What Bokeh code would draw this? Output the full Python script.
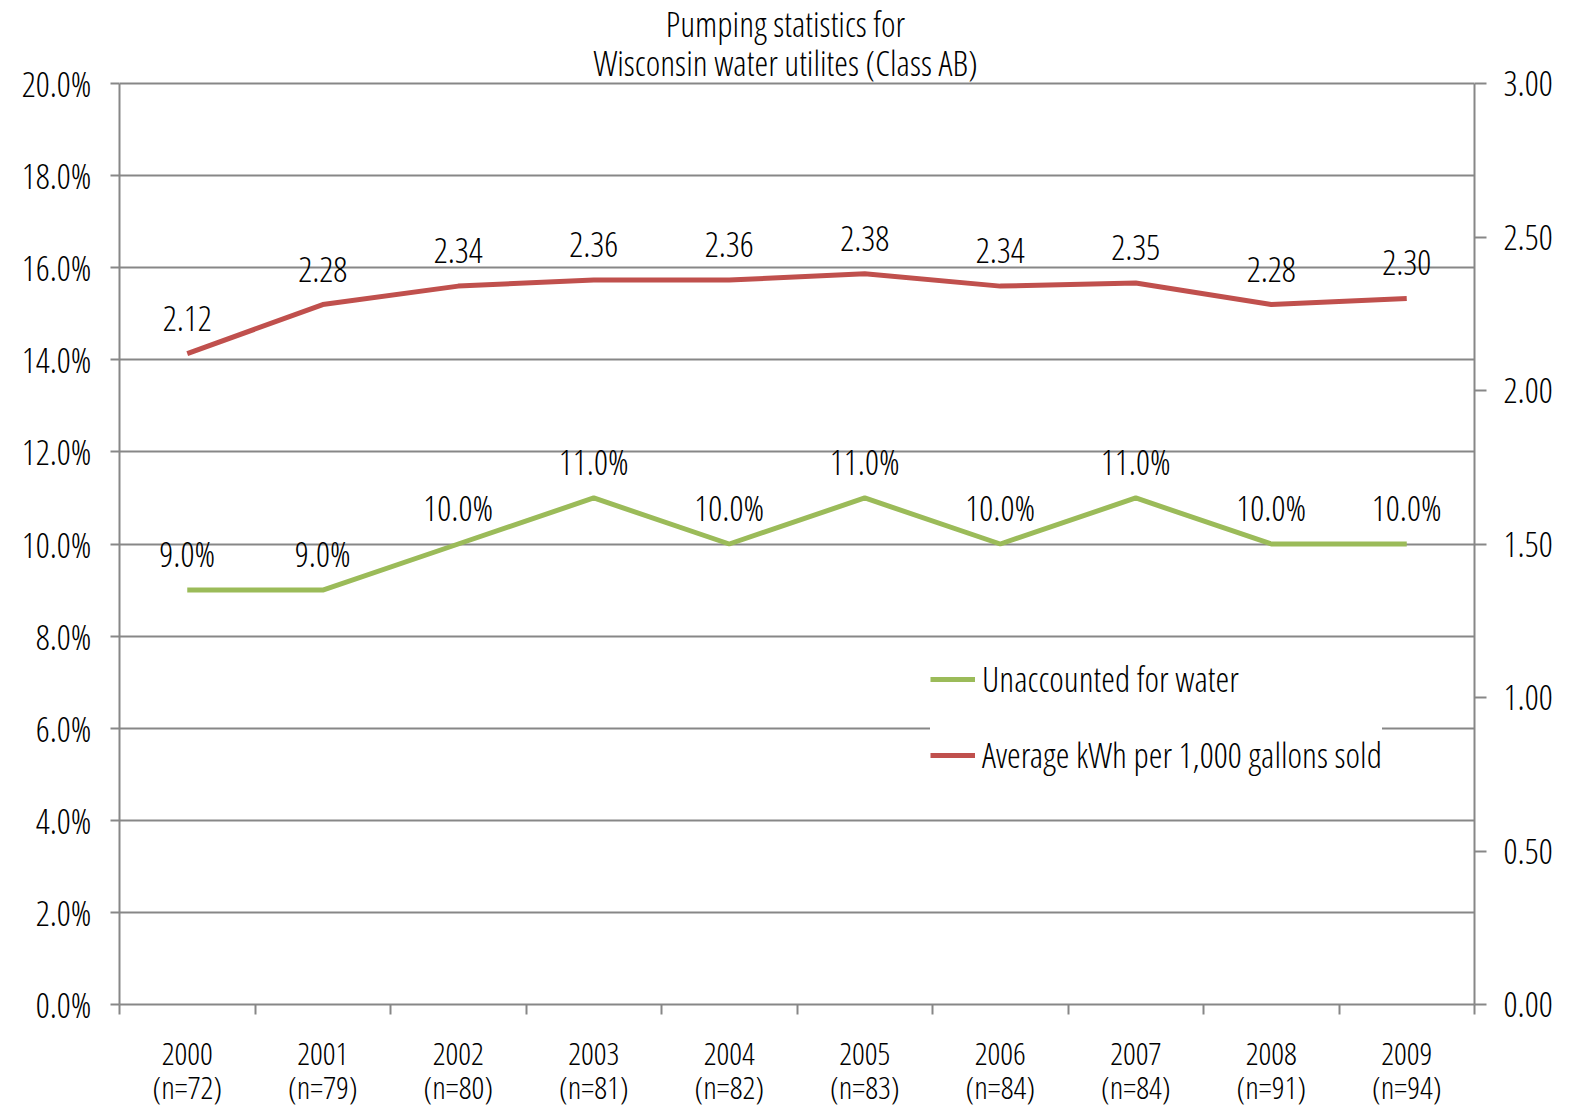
from bokeh.plotting import figure
from bokeh.models import (ColumnDataSource, LinearAxis, Range1d, FixedTicker, PrintfTickFormatter,
                          LabelSet, Label, Legend, LegendItem)
from bokeh.core.properties import value
from bokeh.embed import file_html
from bokeh.resources import INLINE

years = ["2000", "2001", "2002", "2003", "2004", "2005", "2006", "2007", "2008", "2009"]
counts = [72, 79, 80, 81, 82, 83, 84, 84, 91, 94]
unaccounted = [9.0, 9.0, 10.0, 11.0, 10.0, 11.0, 10.0, 11.0, 10.0, 10.0]  # percent
kwh = [2.12, 2.28, 2.34, 2.36, 2.36, 2.38, 2.34, 2.35, 2.28, 2.30]
title_lines = ["Pumping statistics for", "Wisconsin water utilites (Class AB)"]
left_ticks = [0, 2, 4, 6, 8, 10, 12, 14, 16, 18, 20]
right_ticks = [0, 0.5, 1.0, 1.5, 2.0, 2.5, 3.0]

FONT = "Open Sans Condensed Light"
FS = "35px"
FS_X = "32px"
GRAY = "#878787"
GREEN = "#9BBB59"
RED = "#C0504D"
TXT = "#000000"

# layout geometry (pixels): the frame reaches the top of the canvas so that the
# title can sit inside it; the axes are bounded to their value ranges.
W, H = 1570, 1110
F_LEFT, F_RIGHT, F_BOTTOM = 119, 1474, 1004
AX_TOP = 83
scale_up = F_BOTTOM / (F_BOTTOM - AX_TOP)

xs = [i + 0.5 for i in range(len(years))]
src = ColumnDataSource(dict(
    x=xs, u=unaccounted, k=kwh,
    ulab=[f"{v:.1f}%" for v in unaccounted],
    klab=[f"{v:.2f}" for v in kwh],
))

p = figure(width=W, height=H, output_backend="svg", toolbar_location=None,
           x_range=Range1d(0, len(years)),
           y_range=Range1d(0, left_ticks[-1] * scale_up),
           min_border_left=F_LEFT, min_border_right=W - F_RIGHT, min_border_top=0,
           min_border_bottom=H - F_BOTTOM,
           x_axis_location=None, y_axis_location=None)
p.outline_line_color = None
p.background_fill_color = "white"
p.border_fill_color = "white"
p.extra_y_ranges = {"kwh": Range1d(0, right_ticks[-1] * scale_up)}

# left axis
yl = LinearAxis(ticker=FixedTicker(ticks=left_ticks, minor_ticks=[]),
                formatter=PrintfTickFormatter(format="%.1f%%"),
                bounds=(left_ticks[0], left_ticks[-1]))
yl.axis_line_color = GRAY
yl.axis_line_width = 2
yl.major_tick_line_color = GRAY
yl.major_tick_line_width = 2
yl.major_tick_out = 9
yl.major_tick_in = 0
yl.major_label_standoff = 19
yl.major_label_text_font = FONT
yl.major_label_text_font_size = FS
yl.major_label_text_color = TXT
p.add_layout(yl, "left")

# right axis
yr = LinearAxis(y_range_name="kwh",
                ticker=FixedTicker(ticks=right_ticks, minor_ticks=[]),
                formatter=PrintfTickFormatter(format="%.2f"),
                bounds=(right_ticks[0], right_ticks[-1]))
yr.axis_line_color = GRAY
yr.axis_line_width = 2
yr.major_tick_line_color = GRAY
yr.major_tick_line_width = 2
yr.major_tick_out = 12
yr.major_tick_in = 0
yr.major_label_standoff = 17
yr.major_label_text_font = FONT
yr.major_label_text_font_size = FS
yr.major_label_text_color = TXT
p.add_layout(yr, "right")

# bottom axis: labels at category centres, tick marks at category boundaries
xb = LinearAxis(ticker=FixedTicker(ticks=xs, minor_ticks=list(range(0, len(years) + 1))))
xb.major_label_overrides = {x: f"{y}\n(n={n})" for x, y, n in zip(xs, years, counts)}
xb.axis_line_color = GRAY
xb.axis_line_width = 2
xb.major_tick_line_color = None
xb.major_tick_out = 0
xb.major_tick_in = 0
xb.minor_tick_line_color = GRAY
xb.minor_tick_line_width = 2
xb.minor_tick_out = 10
xb.minor_tick_in = 0
xb.major_label_standoff = 16
xb.major_label_text_font = FONT
xb.major_label_text_font_size = FS_X
xb.major_label_text_line_height = 0.8
xb.major_label_text_color = TXT
p.add_layout(xb, "below")

p.ygrid.grid_line_color = GRAY
p.ygrid.grid_line_width = 2
p.ygrid.ticker = FixedTicker(ticks=left_ticks)
p.xgrid.grid_line_color = None

r_u = p.line("x", "u", source=src, line_color=GREEN, line_width=5)
r_k = p.line("x", "k", source=src, line_color=RED, line_width=5, y_range_name="kwh")

p.add_layout(LabelSet(x="x", y="u", text="ulab", source=src, text_align="center",
                      text_baseline="alphabetic", y_offset=23, text_font=value(FONT),
                      text_font_size=value(FS), text_color=TXT))
p.add_layout(LabelSet(x="x", y="k", text="klab", source=src, y_range_name="kwh",
                      text_align="center", text_baseline="alphabetic", y_offset=23,
                      text_font=value(FONT), text_font_size=value(FS), text_color=TXT))

legend = Legend(items=[LegendItem(label="Unaccounted for water", renderers=[r_u]),
                       LegendItem(label="Average kWh per 1,000 gallons sold", renderers=[r_k])],
                location=(811, 226), orientation="vertical")
legend.background_fill_color = "white"
legend.background_fill_alpha = 1.0
legend.border_line_color = None
legend.padding = 10
legend.margin = 0
legend.spacing = 29
legend.label_height = 36
legend.glyph_height = 36
legend.glyph_width = 45
legend.label_standoff = 7
legend.label_text_font = FONT
legend.label_text_font_size = FS
legend.label_text_color = TXT
p.add_layout(legend, "center")

# two-line title, centred on the whole image (screen units from the frame's bottom-left)
for t, base in zip(title_lines, [23, 62]):
    p.add_layout(Label(x=W / 2 - F_LEFT, y=F_BOTTOM - base, x_units="screen", y_units="screen",
                       text=t, text_align="center", text_baseline="alphabetic",
                       text_font=FONT, text_font_size=FS, text_color=TXT))

open("out.html", "w").write(file_html(p, INLINE))
